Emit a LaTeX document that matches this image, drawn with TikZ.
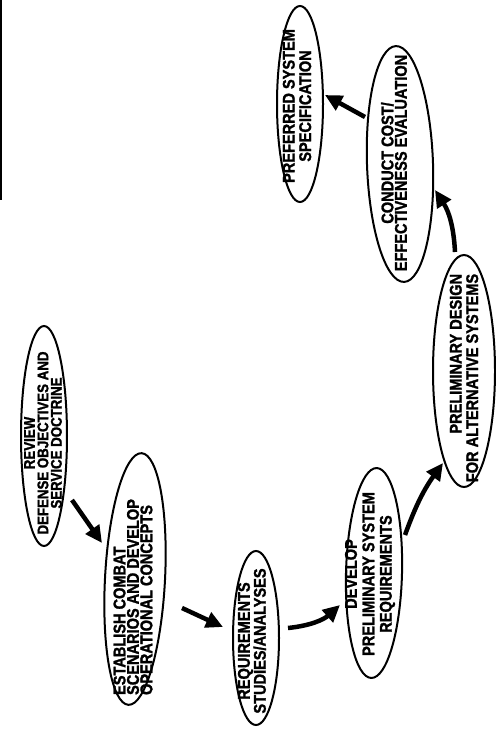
\documentclass[tikz,border=0pt]{standalone}
\usepackage{fontspec}
\newfontfamily\labfont{Liberation Sans Bold}[FakeStretch=0.86,FakeBold=1.5]
\usetikzlibrary{shapes.geometric,arrows.meta,calc}
\begin{document}
\begin{tikzpicture}[x=1bp,y=-1bp,
  ell/.style={draw, ellipse, line width=2bp, inner sep=0pt},
  lab/.style={rotate=90, inner sep=0pt, font=\labfont\fontsize{17}{#1}\selectfont},
  arr/.style={line width=4.5bp, -{Triangle[length=17bp,width=16bp]}}]
\useasboundingbox (0,0) rectangle (496,729);
\draw[line width=1.5bp] (1,0) -- (1,200);

\node[ell, minimum width=46bp, minimum height=220bp] (rev) at (44,436) {};
\node[ell, minimum width=60bp, minimum height=252bp, rotate=-3] (est) at (135,579) {};
\node[ell, minimum width=46bp, minimum height=174bp] (req) at (256,638) {};
\node[ell, minimum width=56bp, minimum height=210bp, rotate=-1.5] (dev) at (374,573) {};
\node[ell, minimum width=62bp, minimum height=232bp] (pre) at (464,371) {};
\node[ell, minimum width=66bp, minimum height=236bp, rotate=2] (con) at (400,164) {};
\node[ell, minimum width=46bp, minimum height=196bp] (pref) at (300,104) {};

\node[lab=14, align=center, font=\labfont\fontsize{15.5}{13.5}\selectfont] (revT) at (43,443) {REVIEW\\DEFENSE OBJECTIVES AND\\SERVICE DOCTRINE};
\node[lab=13.5, align=left] (estT) at (133,597) {ESTABLISH COMBAT\\SCENARIOS AND DEVELOP\\OPERATIONAL CONCEPTS};
\node[lab=16, align=center] (reqT) at (252,641) {REQUIREMENTS\\STUDIES/ANALYSES};
\node[lab=17.5, align=center] (devT) at (370,574) {DEVELOP\\PRELIMINARY SYSTEM\\REQUIREMENTS};
\node[lab=16.5, align=right] (preT) at (464,378) {PRELIMINARY DESIGN\\FOR ALTERNATIVE SYSTEMS};
\node[lab=13.5, align=center] (conT) at (394,163) {CONDUCT COST/\\EFFECTIVENESS EVALUATION};
\node[lab=16.5, align=center] (prefT) at (297,106) {PREFERRED SYSTEM\\SPECIFICATION};

\draw[arr] ($(rev.center)+(28,64)$) -- ($(est.center)+(-33,-36)$);
\draw[arr] ($(est.center)+(47,29)$) -- ($(req.center)+(-33,-11)$);
\draw[arr] ($(req.center)+(32,-10)$) to[bend right=18] ($(dev.center)+(-34,32)$);
\draw[arr] ($(dev.center)+(31,-38)$) to[bend left=8] ($(pre.center)+(-21,92)$);
\draw[arr] ($(pre.center)+(-9,-119)$) to[bend right=15] ($(con.center)+(35,26)$);
\draw[arr] ($(con.center)+(-35,-47)$) -- ($(pref.center)+(25,-9)$);
\end{tikzpicture}
\end{document}
